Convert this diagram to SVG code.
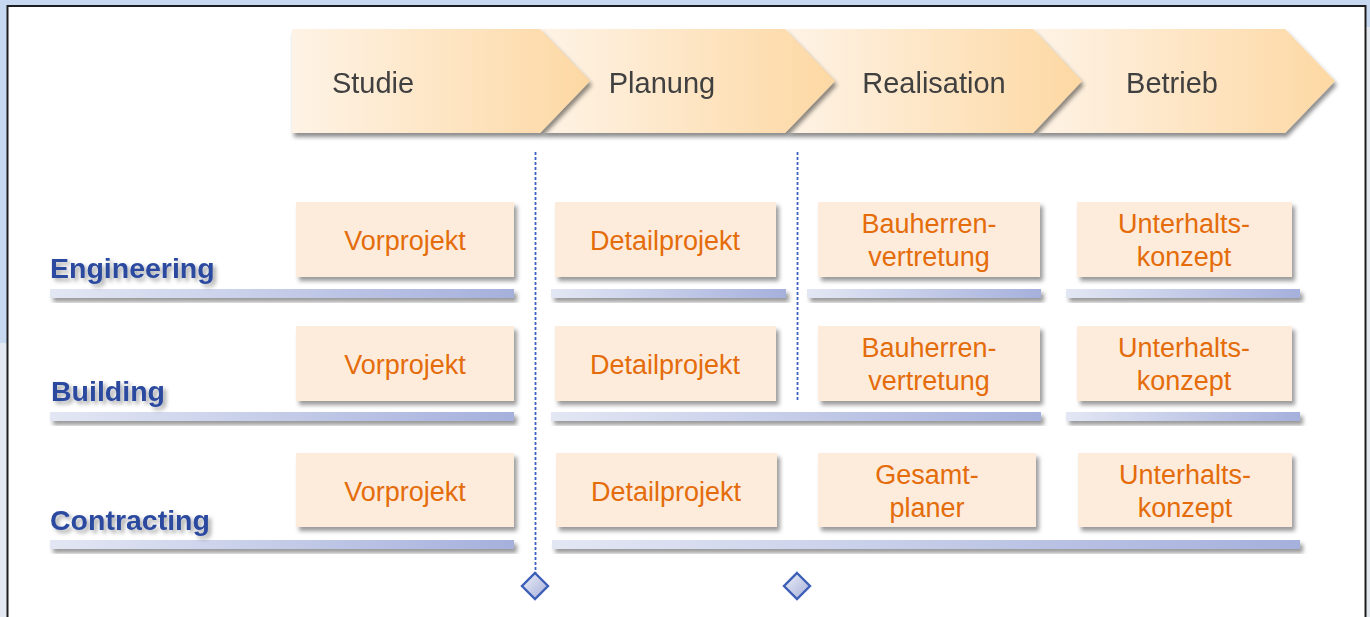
<svg xmlns="http://www.w3.org/2000/svg" width="1370" height="617" viewBox="0 0 1370 617">
<style>
.phase{font-family:"Liberation Sans",Arial,sans-serif;font-size:29px;fill:#404040;text-anchor:middle}
.box{fill:#fdebdc;filter:url(#sh)}
.bt{font-family:"Liberation Sans",Arial,sans-serif;font-size:27px;fill:#e46c0a;text-anchor:middle}
.lbl{font-family:"Liberation Sans",Arial,sans-serif;font-size:28.5px;font-weight:bold;fill:#2c4a9f;filter:url(#tsh)}
.bar{fill:url(#barg);filter:url(#sh)}
.dash{stroke:#3a60c0;stroke-width:1.8;stroke-dasharray:3 2;fill:none}
.ms{fill:url(#dg);stroke:#3d5fb8;stroke-width:2.4}
.chev{filter:url(#csh)}
</style>
<defs>
<linearGradient id="cg" x1="0" y1="0" x2="1" y2="0">
<stop offset="0" stop-color="#fef3e6"/>
<stop offset="1" stop-color="#fdd8a3"/>
</linearGradient>
<linearGradient id="barg" x1="0" y1="0" x2="1" y2="0">
<stop offset="0" stop-color="#e3e7f4"/>
<stop offset="1" stop-color="#a5b0dc"/>
</linearGradient>
<linearGradient id="dg" x1="0" y1="0" x2="1" y2="1">
<stop offset="0" stop-color="#eef0f8"/>
<stop offset="1" stop-color="#a4aed8"/>
</linearGradient>
<filter id="sh" x="-10%" y="-30%" width="125%" height="180%">
<feDropShadow dx="3" dy="4" stdDeviation="2" flood-color="#000" flood-opacity="0.4"/>
</filter>
<filter id="csh" x="-5%" y="-10%" width="115%" height="130%">
<feDropShadow dx="2" dy="4" stdDeviation="2" flood-color="#000" flood-opacity="0.45"/>
</filter>
<filter id="tsh" x="-10%" y="-30%" width="125%" height="180%">
<feDropShadow dx="3" dy="3" stdDeviation="2" flood-color="#000" flood-opacity="0.35"/>
</filter>
</defs>

<!-- background -->
<rect x="0" y="0" width="1370" height="617" fill="#c6d9f1"/>
<rect x="0" y="343" width="8" height="274" fill="#e3e8f1"/>
<rect x="1366" y="27" width="4" height="590" fill="#e3e7ee"/>
<rect x="7.5" y="6" width="1358" height="620" fill="#ffffff" stroke="#1e1e1e" stroke-width="2"/>

<!-- phase chevrons -->
<g id="phase-betrieb" class="chev">
<polygon points="1033,29 1285,29 1335,81 1285,133 1033,133 1082,81" fill="url(#cg)"/>
<text class="phase" x="1172" y="93">Betrieb</text>
</g>
<g id="phase-realisation" class="chev">
<polygon points="785,29 1033,29 1082,81 1033,133 785,133 835,81" fill="url(#cg)"/>
<text class="phase" x="934" y="93">Realisation</text>
</g>
<g id="phase-planung" class="chev">
<polygon points="540,29 785,29 835,81 785,133 540,133 590,81" fill="url(#cg)"/>
<text class="phase" x="662" y="93">Planung</text>
</g>
<g id="phase-studie" class="chev">
<polygon points="292,29 540,29 590,81 540,133 292,133" fill="url(#cg)"/>
<text class="phase" x="373" y="93">Studie</text>
</g>

<!-- row bars -->
<g id="bars">
<rect class="bar" x="50" y="289" width="464" height="9"/>
<rect class="bar" x="551" y="289" width="235" height="9"/>
<rect class="bar" x="807" y="289" width="234" height="9"/>
<rect class="bar" x="1066" y="289" width="234" height="9"/>
<rect class="bar" x="50" y="412" width="464" height="9"/>
<rect class="bar" x="551" y="412" width="490" height="9"/>
<rect class="bar" x="1066" y="412" width="234" height="9"/>
<rect class="bar" x="50" y="540" width="464" height="9"/>
<rect class="bar" x="552" y="540" width="748" height="9"/>
</g>

<!-- row labels -->
<g id="label-engineering"><text class="lbl" x="50" y="278">Engineering</text></g>
<g id="label-building"><text class="lbl" x="51" y="401">Building</text></g>
<g id="label-contracting"><text class="lbl" x="50" y="530">Contracting</text></g>

<!-- Engineering row -->
<g id="eng-vorprojekt"><rect class="box" x="296" y="202" width="218" height="75"/><text class="bt" x="405" y="250">Vorprojekt</text></g>
<g id="eng-detailprojekt"><rect class="box" x="555" y="202" width="221" height="75"/><text class="bt" x="665" y="250">Detailprojekt</text></g>
<g id="eng-bauherren"><rect class="box" x="818" y="202" width="222" height="75"/><text class="bt" x="929" y="233">Bauherren-</text><text class="bt" x="929" y="266">vertretung</text></g>
<g id="eng-unterhalt"><rect class="box" x="1077" y="202" width="215" height="75"/><text class="bt" x="1184" y="233">Unterhalts-</text><text class="bt" x="1184" y="266">konzept</text></g>

<!-- Building row -->
<g id="bld-vorprojekt"><rect class="box" x="296" y="326" width="218" height="75"/><text class="bt" x="405" y="374">Vorprojekt</text></g>
<g id="bld-detailprojekt"><rect class="box" x="555" y="326" width="221" height="75"/><text class="bt" x="665" y="374">Detailprojekt</text></g>
<g id="bld-bauherren"><rect class="box" x="818" y="326" width="222" height="75"/><text class="bt" x="929" y="357">Bauherren-</text><text class="bt" x="929" y="390">vertretung</text></g>
<g id="bld-unterhalt"><rect class="box" x="1077" y="326" width="215" height="75"/><text class="bt" x="1184" y="357">Unterhalts-</text><text class="bt" x="1184" y="390">konzept</text></g>

<!-- Contracting row -->
<g id="con-vorprojekt"><rect class="box" x="296" y="453" width="218" height="74"/><text class="bt" x="405" y="501">Vorprojekt</text></g>
<g id="con-detailprojekt"><rect class="box" x="556" y="453" width="221" height="74"/><text class="bt" x="666" y="501">Detailprojekt</text></g>
<g id="con-gesamtplaner"><rect class="box" x="818" y="453" width="218" height="74"/><text class="bt" x="927" y="484">Gesamt-</text><text class="bt" x="927" y="517">planer</text></g>
<g id="con-unterhalt"><rect class="box" x="1078" y="453" width="214" height="74"/><text class="bt" x="1185" y="484">Unterhalts-</text><text class="bt" x="1185" y="517">konzept</text></g>

<!-- connectors / milestones -->
<g id="connectors">
<line class="dash" x1="535.5" y1="152" x2="535.5" y2="573"/>
<line class="dash" x1="797.5" y1="152" x2="797.5" y2="400"/>
<polygon class="ms" points="535,573 548,586 535,599 522,586"/>
<polygon class="ms" points="797,573 810,586 797,599 784,586"/>
</g>
</svg>
